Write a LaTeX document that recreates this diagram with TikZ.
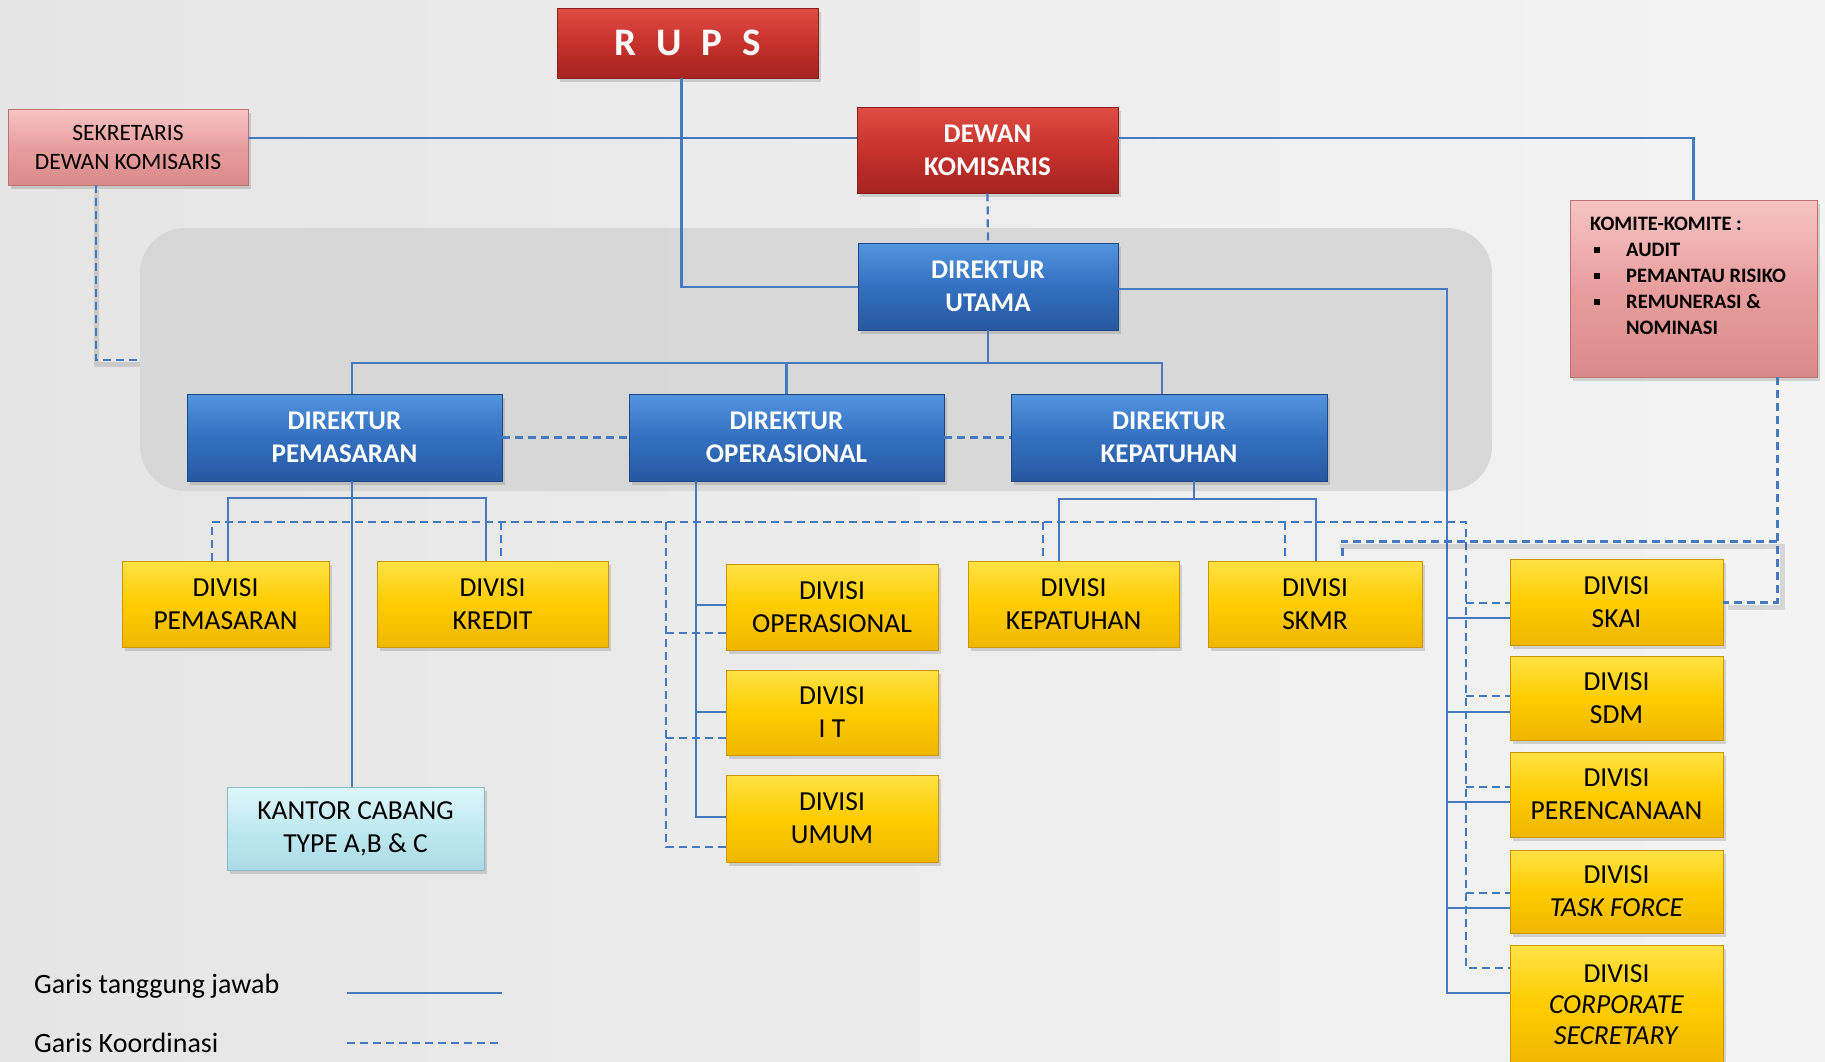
\documentclass[tikz,border=0pt]{standalone}
\usepackage{fontspec}
\setmainfont{Carlito}
\usetikzlibrary{shadows}
\definecolor{lineblue}{RGB}{70,122,192}
\definecolor{redT}{RGB}{222,78,68}
\definecolor{redM}{RGB}{198,50,45}
\definecolor{redB}{RGB}{165,35,32}
\definecolor{redD}{RGB}{140,30,28}
\definecolor{blueT}{RGB}{82,148,222}
\definecolor{blueM}{RGB}{52,112,192}
\definecolor{blueB}{RGB}{38,88,160}
\definecolor{blueD}{RGB}{30,70,130}
\definecolor{yelT}{RGB}{255,226,70}
\definecolor{yelM}{RGB}{255,204,0}
\definecolor{yelB}{RGB}{240,182,0}
\definecolor{yelD}{RGB}{205,150,0}
\definecolor{pinkT}{RGB}{247,196,196}
\definecolor{pinkM}{RGB}{232,158,158}
\definecolor{pinkB}{RGB}{218,138,138}
\definecolor{pinkD}{RGB}{190,115,115}
\definecolor{cyanT}{RGB}{222,246,250}
\definecolor{cyanM}{RGB}{192,233,241}
\definecolor{cyanB}{RGB}{172,218,230}
\definecolor{cyanD}{RGB}{140,185,200}
\definecolor{bgL}{RGB}{229,229,229}
\definecolor{bgR}{RGB}{244,244,244}
\definecolor{panel}{RGB}{214,214,214}
\newcommand\kbul{\hspace*{4pt}\rule[3.5pt]{6pt}{6pt}\hspace*{26pt}}
\tikzset{
  orgbox/.style={rectangle, inner sep=0pt, align=center, line width=0.8pt,
    drop shadow={shadow xshift=3pt, shadow yshift=-4pt, opacity=0.3}},
  sz/.style 2 args={minimum width=#1pt, minimum height=#2pt},
  redbox/.style={orgbox, draw=redD, top color=redT, bottom color=redB, middle color=redM,
    text=white, font=\fontsize{27}{33}\selectfont\bfseries},
  bluebox/.style={orgbox, draw=blueD, top color=blueT, bottom color=blueB, middle color=blueM,
    text=white, font=\fontsize{27}{33}\selectfont\bfseries},
  yelbox/.style={orgbox, draw=yelD, top color=yelT, bottom color=yelB, middle color=yelM,
    text=black, font=\fontsize{27.5}{33}\selectfont},
  pinkbox/.style={orgbox, draw=pinkD, top color=pinkT, bottom color=pinkB, middle color=pinkM,
    text=black},
  cyanbox/.style={orgbox, draw=cyanD, top color=cyanT, bottom color=cyanB, middle color=cyanM,
    text=black, font=\fontsize{27.5}{33}\selectfont},
  resp/.style={draw=lineblue, line width=2.2pt},
  koord/.style={draw=lineblue, line width=2.2pt, dash pattern=on 8pt off 5pt},
  koordthick/.style={koord, line width=3pt},
  lineshadow/.style={draw=black, opacity=0.12, line width=5pt},
  legend/.style={anchor=base west, inner sep=0pt, font=\fontsize{28}{33}\selectfont}
}
\begin{document}
\begin{tikzpicture}[x=1pt, y=-1pt]
\path[use as bounding box, clip] (0,0) rectangle (1825,1061);
\fill[left color=bgL, right color=bgR] (0,0) rectangle (1825,1061);
% panel
\fill[panel, opacity=0.9, rounded corners=45pt] (140,228) rectangle (1492,491);

% nodes
\node[redbox, sz={261}{70}, font=\fontsize{39}{42}\selectfont\bfseries] (rups) at (687.5,43)
  {R\hspace{20pt}U\hspace{20pt}P\hspace{20pt}S};
\node[pinkbox, sz={240}{76}, font=\fontsize{23.5}{29}\selectfont] (sek) at (128,147)
  {SEKRETARIS\\DEWAN KOMISARIS};
\node[redbox, sz={261}{86}] (dewan) at (987.5,150) {DEWAN\\KOMISARIS};
\node[bluebox, sz={260}{87}] (dirut) at (988,286.5) {DIREKTUR\\UTAMA};
\node[pinkbox, sz={247}{177}] (kom) at (1693.5,288.5) {};
\node[anchor=north west, inner sep=0pt, align=left, font=\fontsize{20.5}{26}\selectfont\bfseries]
  (komtxt) at (1590,216.5)
  {KOMITE-KOMITE :\\\kbul AUDIT\\\kbul PEMANTAU RISIKO\\\kbul REMUNERASI \&\\\hspace*{36pt}NOMINASI};
\node[bluebox, sz={315}{87}] (dirpem) at (344.5,437.5) {DIREKTUR\\PEMASARAN};
\node[bluebox, sz={315}{87}] (dirops) at (786.5,437.5) {DIREKTUR\\OPERASIONAL};
\node[bluebox, sz={316}{87}] (dirkep) at (1169,437.5) {DIREKTUR\\KEPATUHAN};

\node[yelbox, sz={207}{86}] (divpem) at (225.5,604) {DIVISI\\PEMASARAN};
\node[yelbox, sz={231}{86}] (divkredit) at (492.5,604) {DIVISI\\KREDIT};
\node[yelbox, sz={212}{86}] (divops) at (832,607) {DIVISI\\OPERASIONAL};
\node[yelbox, sz={212}{85}] (divit) at (832,712.5) {DIVISI\\I T};
\node[yelbox, sz={212}{87}] (divumum) at (832,818.5) {DIVISI\\UMUM};
\node[cyanbox, sz={257}{83}] (kantor) at (355.5,828.5) {KANTOR CABANG\\TYPE A,B \& C};
\node[yelbox, sz={211}{86}] (divkep) at (1073.5,604) {DIVISI\\KEPATUHAN};
\node[yelbox, sz={214}{86}] (skmr) at (1315,604) {DIVISI\\SKMR};
\node[yelbox, sz={213}{86}] (skai) at (1616.5,602) {DIVISI\\SKAI};
\node[yelbox, sz={213}{84}] (sdm) at (1616.5,698) {DIVISI\\SDM};
\node[yelbox, sz={213}{85}] (peren) at (1616.5,794.5) {DIVISI\\PERENCANAAN};
\node[yelbox, sz={213}{83}] (task) at (1616.5,891.5) {DIVISI\\\textit{TASK FORCE}};
\node[yelbox, sz={213}{120}, font=\fontsize{27.5}{31}\selectfont] (corp) at (1616.5,1005)
  {DIVISI\\\textit{CORPORATE}\\\textit{SECRETARY}};

% connectors: responsibility (solid)
\draw[resp] ([xshift=-6pt]rups.south) |- (dirut.west |- 0,287);
\draw[resp] (sek.east |- 0,138) -- (dewan.west |- 0,138);
\draw[resp] (dewan.east |- 0,138) -| (kom.north);
\coordinate (hub) at (988,363);
\draw[resp] (dirut.south) -- (hub);
\draw[resp] (dirpem.north -| 352,0) |- (hub) -| (dirkep.north -| 1162,0);
\draw[resp] (dirops.north) -- (dirops.north |- hub);
\draw[resp] (dirut.east |- 0,289) -| (1447,993) -- (corp.west |- 0,993);
\foreach \n/\yy in {skai/618, sdm/712, peren/802, task/908}
  \draw[resp] (1447,\yy) -- (\n.west |- 0,\yy);
\draw[resp] (dirpem.south -| 352,0) -- (kantor.north -| 352,0);
\draw[resp] (divpem.north -| 228,0) |- (486,498) -- (divkredit.north -| 486,0);
\draw[resp] (dirops.south -| 696,0) |- (divumum.west |- 0,817);
\draw[resp] (696,605) -- (divops.west |- 0,605);
\draw[resp] (696,712) -- (divit.west |- 0,712);
\draw[resp] (dirkep.south -| 1194,0) -- (1194,499);
\draw[resp] (divkep.north -| 1059,0) |- (1316,499) -- (skmr.north -| 1316,0);

% connectors: coordination (dashed)
\draw[koord] (dewan.south) -- (dirut.north);
\coordinate (panelL) at (140,360);
\draw[lineshadow] (96,190) |- (140,364);
\draw[koord] (sek.south -| 96,0) |- (panelL);
\draw[koord] (dirpem.east) -- (dirops.west);
\draw[koord] (dirops.east) -- (dirkep.west);
\draw[koord] (divpem.north -| 212,0) |- (1466,522) |- (corp.west |- 0,968);
\draw[koord] (501,522) -- (divkredit.north -| 501,0);
\draw[koord] (666,522) |- (divumum.west |- 0,847);
\draw[koord] (666,633) -- (divops.west |- 0,633);
\draw[koord] (666,738) -- (divit.west |- 0,738);
\draw[koord] (1043,522) -- (divkep.north -| 1043,0);
\draw[koord] (1285,522) -- (skmr.north -| 1285,0);
\foreach \n/\yy in {skai/603, sdm/696, peren/787, task/893}
  \draw[koord] (1466,\yy) -- (\n.west |- 0,\yy);
\draw[lineshadow] (1340,546) -- (1782,546) -- (1782,607) -- (1728,607);
\draw[koordthick] (kom.south -| 1777,0) |- (skai.east |- 0,602);
\draw[koordthick] (1777,541) -| (skmr.north -| 1342,0);

% legend
\node[legend] (lg1) at (34,993) {Garis tanggung jawab};
\node[legend] (lg2) at (34,1052) {Garis Koordinasi};
\coordinate (l1a) at (347,993);
\coordinate (l1b) at (502,993);
\coordinate (l2a) at (347,1043);
\coordinate (l2b) at (502,1043);
\draw[resp] (l1a) -- (l1b);
\draw[koord] (l2a) -- (l2b);
\end{tikzpicture}
\end{document}
